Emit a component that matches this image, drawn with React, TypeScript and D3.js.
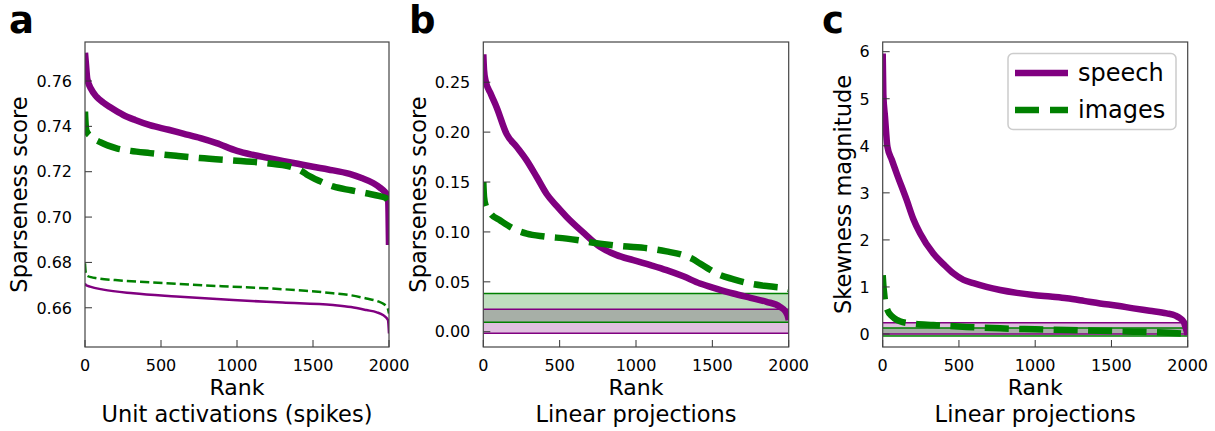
import React from "react";
import * as d3 from "d3";

// ---------- data ----------
// Panel a: unit activations (spikes)
const rankA_speechThick = [0, 5, 15, 40, 77, 120, 164, 252, 330, 427, 550, 646, 760, 865, 1000, 1100, 1194, 1300, 1400, 1500, 1600, 1741, 1820, 1895, 1940, 1971, 1993, 1997, 2000];
const valA_speechThick = [0.7725, 0.7685, 0.7610, 0.7565, 0.7530, 0.7505, 0.7485, 0.7450, 0.7428, 0.7405, 0.7385, 0.7368, 0.7348, 0.7326, 0.7292, 0.7275, 0.7262, 0.7248, 0.7235, 0.7222, 0.7210, 0.7190, 0.7172, 0.7150, 0.7130, 0.7112, 0.7090, 0.7020, 0.6877];
const rankA_imagesThick = [0, 4, 10, 40, 100, 208, 300, 427, 600, 756, 1000, 1194, 1350, 1420, 1458, 1540, 1632, 1750, 1851, 1940, 1982, 2000];
const valA_imagesThick = [0.7465, 0.7410, 0.7380, 0.7355, 0.7330, 0.7303, 0.7292, 0.7282, 0.7270, 0.7260, 0.7248, 0.7238, 0.7222, 0.7205, 0.7188, 0.7160, 0.7135, 0.7118, 0.7105, 0.7092, 0.7083, 0.7060];
const rankA_imagesThin = [0, 4, 12, 40, 77, 200, 537, 900, 1194, 1450, 1632, 1750, 1851, 1930, 1960, 1990, 2000];
const valA_imagesThin = [0.6796, 0.6760, 0.6742, 0.6735, 0.6730, 0.6722, 0.6708, 0.6695, 0.6686, 0.6675, 0.6664, 0.6655, 0.6641, 0.6628, 0.6619, 0.6600, 0.6575];
const rankA_speechThin = [0, 5, 33, 120, 318, 600, 975, 1300, 1632, 1750, 1851, 1920, 1960, 1993, 2000];
const valA_speechThin = [0.6708, 0.6700, 0.6693, 0.6680, 0.6664, 0.6650, 0.6634, 0.6623, 0.6612, 0.6603, 0.6590, 0.6580, 0.6568, 0.6546, 0.6487];

// Panel b: linear projections, sparseness
const rankB_speech = [0, 5, 15, 50, 87, 153, 220, 284, 350, 415, 480, 546, 650, 764, 870, 982, 1100, 1200, 1310, 1419, 1530, 1637, 1750, 1855, 1943, 1980, 1997, 2000];
const valB_speech = [0.278, 0.262, 0.2517, 0.238, 0.225, 0.198, 0.185, 0.1717, 0.155, 0.138, 0.126, 0.115, 0.100, 0.085, 0.077, 0.0717, 0.0665, 0.0617, 0.0555, 0.0483, 0.0430, 0.0383, 0.0340, 0.0300, 0.0250, 0.0200, 0.0140, 0.0117];
const rankB_images = [0, 5, 15, 50, 109, 200, 284, 400, 546, 764, 900, 1091, 1200, 1310, 1370, 1419, 1470, 1528, 1640, 1746, 1870, 1986, 2000];
const valB_images = [0.150, 0.135, 0.1267, 0.118, 0.1117, 0.1030, 0.0983, 0.0955, 0.0933, 0.0883, 0.0858, 0.0833, 0.0805, 0.0767, 0.0730, 0.0683, 0.0635, 0.0583, 0.0525, 0.0483, 0.0455, 0.0433, 0.0428];
const bandB_speech = [-0.0016, 0.0224];
const bandB_images = [0.0094, 0.0384];

// Panel c: linear projections, skewness
const rankC_speech = [0, 4, 15, 31, 60, 92, 157, 200, 245, 332, 400, 463, 530, 595, 680, 770, 880, 988, 1100, 1207, 1320, 1425, 1540, 1644, 1750, 1862, 1920, 1950, 1975, 1994, 2000];
const valC_speech = [5.96, 5.10, 4.62, 3.98, 3.70, 3.41, 2.85, 2.45, 2.14, 1.71, 1.48, 1.29, 1.15, 1.08, 1.00, 0.935, 0.875, 0.83, 0.795, 0.76, 0.705, 0.65, 0.60, 0.545, 0.495, 0.44, 0.39, 0.333, 0.25, 0.05, -0.02];
const rankC_images = [0, 4, 10, 15, 31, 60, 92, 113, 200, 332, 550, 770, 1000, 1207, 1420, 1644, 1800, 1930, 2000];
const valC_images = [1.25, 1.05, 0.85, 0.70, 0.51, 0.38, 0.30, 0.27, 0.22, 0.19, 0.15, 0.12, 0.10, 0.085, 0.068, 0.05, 0.035, 0.015, 0.0];
const bandC_speech = [0.0, 0.24];
const bandC_images = [-0.04, 0.13];

const xTicks = [0, 500, 1000, 1500, 2000];
const yTicksA = [0.66, 0.68, 0.7, 0.72, 0.74, 0.76];
const yTicksB = [0.0, 0.05, 0.1, 0.15, 0.2, 0.25];
const yTicksC = [0, 1, 2, 3, 4, 5, 6];
const legendLabels = ["speech", "images"];

const PURPLE = "#800080";
const GREEN = "#008000";
const FONT = "DejaVu Sans, Verdana, sans-serif";

type Series = {
  ranks: number[];
  vals: number[];
  color: string;
  width: number;
  dashed: boolean;
};
type Band = { lo: number; hi: number; color: string };

type PanelProps = {
  left: number;
  right: number;
  top: number;
  bottom: number;
  yDomain: [number, number];
  yTicks: number[];
  yFmt: (v: number) => string;
  yLabel: string;
  yLabelX: number;
  letter: string;
  letterX: number;
  subtitle: string;
  series: Series[];
  bands: Band[];
  legend?: boolean;
};

function Panel(p: PanelProps) {
  const x = d3.scaleLinear().domain([0, 2000]).range([p.left, p.right]);
  const y = d3.scaleLinear().domain(p.yDomain).range([p.bottom, p.top]);
  const cx = (p.left + p.right) / 2;
  const cy = (p.top + p.bottom) / 2;
  const clipId = "clip-" + p.letter;
  const line = d3
    .line<[number, number]>()
    .x((d) => x(d[0]))
    .y((d) => y(d[1]))
    .curve(d3.curveMonotoneX);

  return (
    <g>
      <defs>
        <clipPath id={clipId}>
          <rect x={p.left} y={p.top} width={p.right - p.left} height={p.bottom - p.top} />
        </clipPath>
      </defs>
      <text x={p.letterX} y={33} fontFamily={FONT} fontWeight="bold" fontSize={37} fill="#000">
        {p.letter}
      </text>
      <g clipPath={`url(#${clipId})`}>
        {p.bands.map((b, i) => (
          <g key={"band" + i}>
            <rect
              x={x(0)}
              width={x(2000) - x(0)}
              y={y(b.hi)}
              height={y(b.lo) - y(b.hi)}
              fill={b.color}
              fillOpacity={0.25}
            />
          </g>
        ))}
        {p.bands.map((b, i) => (
          <g key={"edge" + i}>
            <line x1={x(0)} x2={x(2000)} y1={y(b.hi)} y2={y(b.hi)} stroke={b.color} strokeWidth={1.5} />
            <line x1={x(0)} x2={x(2000)} y1={y(b.lo)} y2={y(b.lo)} stroke={b.color} strokeWidth={1.5} />
          </g>
        ))}
        {p.series.map((s, i) => {
          const pts = s.ranks.map((r, j) => [r, s.vals[j]] as [number, number]);
          return (
            <path
              key={"s" + i}
              d={line(pts) || ""}
              fill="none"
              stroke={s.color}
              strokeWidth={s.width}
              strokeDasharray={s.dashed ? `${3.7 * s.width},${1.6 * s.width}` : undefined}
              strokeLinecap="butt"
              strokeLinejoin="round"
            />
          );
        })}
      </g>
      {/* ticks */}
      {xTicks.map((t) => (
        <g key={"xt" + t}>
          <line x1={x(t)} x2={x(t)} y1={p.bottom} y2={p.bottom - 7} stroke="#333" strokeWidth={1} />
          <text x={x(t)} y={p.bottom + 24} textAnchor="middle" fontFamily={FONT} fontSize={16} fill="#000">
            {t}
          </text>
        </g>
      ))}
      {p.yTicks.map((t) => (
        <g key={"yt" + t}>
          <line x1={p.left} x2={p.left + 7} y1={y(t)} y2={y(t)} stroke="#333" strokeWidth={1} />
          <text
            x={p.left - 13}
            y={y(t)}
            dy="0.36em"
            textAnchor="end"
            fontFamily={FONT}
            fontSize={16}
            fill="#000"
          >
            {p.yFmt(t)}
          </text>
        </g>
      ))}
      <rect
        x={p.left}
        y={p.top}
        width={p.right - p.left}
        height={p.bottom - p.top}
        fill="none"
        stroke="#444"
        strokeWidth={1.2}
      />
      <text x={cx} y={395} textAnchor="middle" fontFamily={FONT} fontSize={22} fill="#000">
        Rank
      </text>
      <text x={cx} y={422} textAnchor="middle" fontFamily={FONT} fontSize={22.5} fill="#000">
        {p.subtitle}
      </text>
      <text
        transform={`translate(${p.yLabelX},${cy}) rotate(-90)`}
        textAnchor="middle"
        fontFamily={FONT}
        fontSize={22.5}
        fill="#000"
      >
        {p.yLabel}
      </text>
      {p.legend && (
        <g>
          <rect x={1008} y={53.5} width={168} height={76} rx={5} fill="#fff" fillOpacity={0.8} stroke="#cccccc" strokeWidth={1.5} />
          <line x1={1015} x2={1068} y1={73} y2={73} stroke={PURPLE} strokeWidth={6.5} />
          <line x1={1015} x2={1068} y1={110} y2={110} stroke={GREEN} strokeWidth={6.5} strokeDasharray="24,11" />
          <text x={1078} y={81} fontFamily={FONT} fontSize={24} fill="#000">
            {legendLabels[0]}
          </text>
          <text x={1078} y={118} fontFamily={FONT} fontSize={24} fill="#000">
            {legendLabels[1]}
          </text>
        </g>
      )}
    </g>
  );
}

export default function App() {
  const f2 = d3.format(".2f");
  const fd = d3.format("d");
  return (
    <svg
      width={1215}
      height={431}
      style={{ position: "absolute", left: 0, top: 0, background: "#fff" }}
    >
      <rect width={1215} height={431} fill="#fff" />
      <Panel
        left={85}
        right={389}
        top={42}
        bottom={347}
        yDomain={[0.6427, 0.7772]}
        yTicks={yTicksA}
        yFmt={f2}
        yLabel="Sparseness score"
        yLabelX={27}
        letter="a"
        letterX={9}
        subtitle="Unit activations (spikes)"
        bands={[]}
        series={[
          { ranks: rankA_speechThick, vals: valA_speechThick, color: PURPLE, width: 6.5, dashed: false },
          { ranks: rankA_imagesThick, vals: valA_imagesThick, color: GREEN, width: 6.5, dashed: true },
          { ranks: rankA_speechThin, vals: valA_speechThin, color: PURPLE, width: 2.5, dashed: false },
          { ranks: rankA_imagesThin, vals: valA_imagesThin, color: GREEN, width: 2.5, dashed: true },
        ]}
      />
      <Panel
        left={483.3}
        right={788.7}
        top={42}
        bottom={347}
        yDomain={[-0.0153, 0.2903]}
        yTicks={yTicksB}
        yFmt={f2}
        yLabel="Sparseness score"
        yLabelX={426}
        letter="b"
        letterX={409}
        subtitle="Linear projections"
        bands={[
          { lo: bandB_speech[0], hi: bandB_speech[1], color: PURPLE },
          { lo: bandB_images[0], hi: bandB_images[1], color: GREEN },
        ]}
        series={[
          { ranks: rankB_speech, vals: valB_speech, color: PURPLE, width: 6.5, dashed: false },
          { ranks: rankB_images, vals: valB_images, color: GREEN, width: 6.5, dashed: true },
        ]}
      />
      <Panel
        left={882.7}
        right={1187.7}
        top={42}
        bottom={347}
        yDomain={[-0.276, 6.206]}
        yTicks={yTicksC}
        yFmt={fd}
        yLabel="Skewness magnitude"
        yLabelX={851}
        letter="c"
        letterX={822}
        subtitle="Linear projections"
        bands={[
          { lo: bandC_speech[0], hi: bandC_speech[1], color: PURPLE },
          { lo: bandC_images[0], hi: bandC_images[1], color: GREEN },
        ]}
        series={[
          { ranks: rankC_speech, vals: valC_speech, color: PURPLE, width: 6.5, dashed: false },
          { ranks: rankC_images, vals: valC_images, color: GREEN, width: 6.5, dashed: true },
        ]}
        legend
      />
    </svg>
  );
}
